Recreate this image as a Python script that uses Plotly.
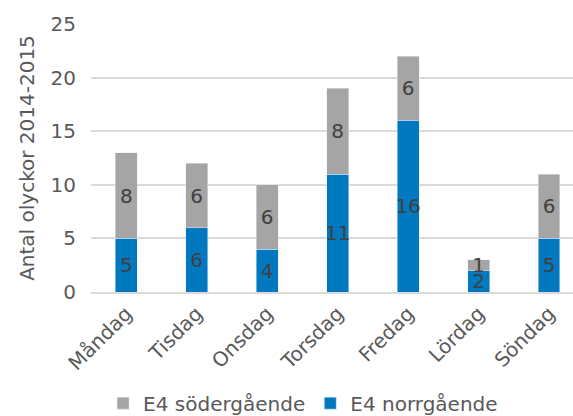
import plotly.graph_objects as go

days = ["Måndag", "Tisdag", "Onsdag", "Torsdag", "Fredag", "Lördag", "Söndag"]
norr = [5, 6, 4, 11, 16, 2, 5]
soder = [8, 6, 6, 8, 6, 1, 6]
yticks = [0, 5, 10, 15, 20, 25]

FONT = "DejaVu Sans"
FS = 20
fig = go.Figure()
fig.add_trace(go.Bar(
    x=days, y=norr, name="E4 norrgående", marker_color="#0079C1",
    text=[str(v) for v in norr], textposition="inside", insidetextanchor="middle",
    textangle=0, constraintext="none",
    textfont=dict(family=FONT, size=FS, color="#404040"), width=0.31,
))
fig.add_trace(go.Bar(
    x=days, y=soder, name="E4 södergående", marker_color="#A5A5A5",
    text=[str(v) for v in soder], textposition="inside", insidetextanchor="middle",
    textangle=0, constraintext="none",
    textfont=dict(family=FONT, size=FS, color="#404040"), width=0.31,
))
fig.update_layout(
    barmode="stack",
    width=573, height=416,
    margin=dict(l=91, r=0, t=24, b=124, autoexpand=False),
    paper_bgcolor="white", plot_bgcolor="white",
    font=dict(family=FONT, size=FS, color="#595959"),
    showlegend=True,
    legend=dict(orientation="h", traceorder="reversed", x=0.44, xanchor="center",
                y=-0.342, yanchor="top", font=dict(size=FS, color="#595959"),
                itemwidth=30),
    xaxis=dict(range=[-0.5, 6.34], tickangle=-45, showgrid=False, automargin=False,
               tickfont=dict(size=FS, color="#595959"), showline=True,
               linecolor="#D9D9D9", linewidth=2),
    yaxis=dict(range=[0, 25], tickvals=yticks, showgrid=True, gridcolor="#D9D9D9",
               gridwidth=2, zeroline=False, ticklabelstandoff=14, automargin=False,
               tickfont=dict(size=FS, color="#595959"),
               title=dict(text="Antal olyckor 2014-2015", font=dict(size=FS, color="#595959"),
                          standoff=10)),
)
fig.write_html("out.html")
